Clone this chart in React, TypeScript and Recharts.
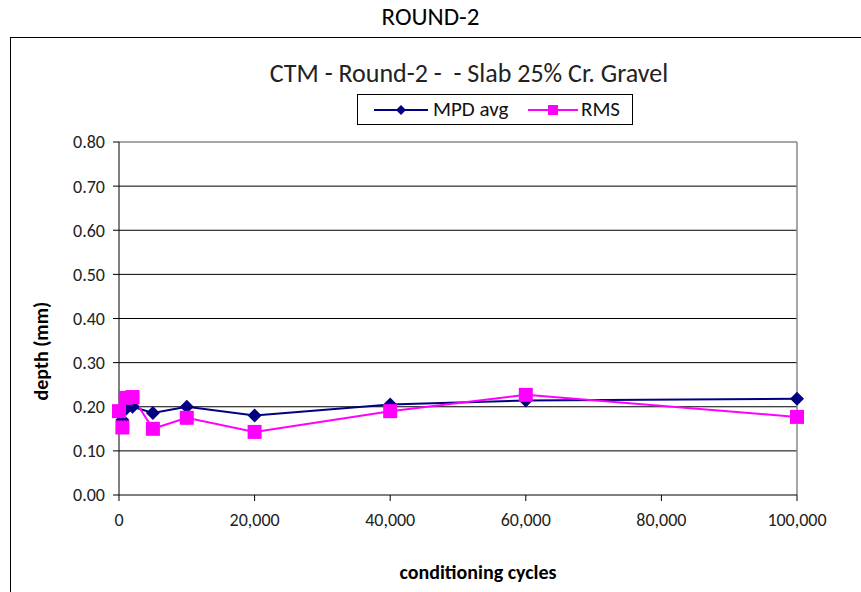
import React from 'react'
import { LineChart, Line, XAxis, YAxis, CartesianGrid, ReferenceLine } from 'recharts'

const cycles = [0, 500, 1000, 2000, 5000, 10000, 20000, 40000, 60000, 100000]
const mpdAvg = [0.185, 0.17, 0.195, 0.2, 0.186, 0.2, 0.18, 0.205, 0.214, 0.218]
const rms = [0.19, 0.153, 0.22, 0.222, 0.15, 0.175, 0.143, 0.19, 0.227, 0.177]
const xTicks = [0, 20000, 40000, 60000, 80000, 100000]
const yTicks = [0, 0.1, 0.2, 0.3, 0.4, 0.5, 0.6, 0.7, 0.8]

const data = cycles.map((c, i) => ({ cycles: c, mpd: mpdAvg[i], rms: rms[i] }))

const FONT = 'Carlito, Lato, "Open Sans", sans-serif'
const NAVY = '#000080'
const MAGENTA = '#ff00ff'

const Diamond = ({ cx, cy, size = 7 }: any) => (
  <polygon
    points={`${cx},${cy - size} ${cx + size},${cy} ${cx},${cy + size} ${cx - size},${cy}`}
    fill={NAVY}
  />
)

const Square = ({ cx, cy, size = 7 }: any) => (
  <rect x={cx - size} y={cy - size} width={size * 2} height={size * 2} fill={MAGENTA} />
)

const fmtX = (v: number) => v.toLocaleString('en-US')

export default function App() {
  return (
    <div
      style={{
        position: 'absolute',
        left: 0,
        top: 0,
        width: 861,
        height: 592,
        overflow: 'hidden',
        background: '#fff',
        fontFamily: FONT,
      }}
    >
      <div style={{ position: 'absolute', left: 0, width: 861, top: 1, textAlign: 'center', fontSize: 25, color: '#000' }}>
        ROUND-2
      </div>
      {/* outer chart frame */}
      <div style={{ position: 'absolute', left: 10, top: 37, width: 900, height: 600, border: '1.5px solid #000' }} />

      <div style={{ position: 'absolute', left: 0, top: 0 }}>
        <LineChart width={861} height={592} data={data} margin={{ top: 142, right: 64, left: 19, bottom: 17 }}>
          <CartesianGrid horizontal vertical={false} stroke="#000" strokeWidth={1} horizontalValues={[0.1, 0.2, 0.3, 0.4, 0.5, 0.6, 0.7]} />
          <ReferenceLine y={0.8} stroke="#888" strokeWidth={1.5} />
          <ReferenceLine x={100000} stroke="#888" strokeWidth={1.5} />
          <XAxis
            dataKey="cycles"
            type="number"
            domain={[0, 100000]}
            ticks={xTicks}
            tickFormatter={fmtX}
            height={80}
            stroke="#000"
            tickSize={6}
            tick={{ fill: '#222', fontSize: 18, fontFamily: FONT, dy: 10 }}
            label={{ value: 'conditioning cycles', position: 'insideBottom', offset: -4, fill: '#000', fontSize: 20, fontWeight: 'bold', fontFamily: FONT, dx: 20 }}
          />
          <YAxis
            type="number"
            domain={[0, 0.8]}
            ticks={yTicks}
            tickFormatter={(v: number) => v.toFixed(2)}
            width={100}
            stroke="#000"
            tickSize={6}
            tick={{ fill: '#222', fontSize: 18, fontFamily: FONT, dx: -6 }}
            label={{ value: 'depth (mm)', angle: -90, position: 'insideLeft', offset: 22, fill: '#000', fontSize: 20, fontWeight: 'bold', fontFamily: FONT, dy: 82 }}
          />
          <Line
            dataKey="mpd"
            stroke={NAVY}
            strokeWidth={2}
            isAnimationActive={false}
            dot={(p: any) => <Diamond key={`d${p.index}`} cx={p.cx} cy={p.cy} />}
            activeDot={false}
          />
          <Line
            dataKey="rms"
            stroke={MAGENTA}
            strokeWidth={2}
            isAnimationActive={false}
            dot={(p: any) => <Square key={`s${p.index}`} cx={p.cx} cy={p.cy} />}
            activeDot={false}
          />
        </LineChart>
      </div>

      <div style={{ position: 'absolute', left: 0, width: 938, top: 57, textAlign: 'center', fontSize: 26, color: '#222', whiteSpace: 'pre' }}>
        {'CTM - Round-2 -  - Slab 25% Cr. Gravel'}
      </div>

      {/* legend */}
      <div
        style={{
          position: 'absolute',
          left: 357,
          top: 94,
          width: 274,
          height: 29,
          border: '1px solid #000',
          fontSize: 21,
          color: '#111',
        }}
      >
        <svg width={60} height={20} style={{ position: 'absolute', left: 14, top: 5 }}>
          <line x1={2} y1={10} x2={56} y2={10} stroke={NAVY} strokeWidth={2} />
          <Diamond cx={29} cy={10} size={5} />
        </svg>
        <span style={{ position: 'absolute', left: 75, top: 1 }}>MPD avg</span>
        <svg width={56} height={20} style={{ position: 'absolute', left: 168, top: 5 }}>
          <line x1={2} y1={10} x2={52} y2={10} stroke={MAGENTA} strokeWidth={2} />
          <Square cx={27} cy={10} size={5} />
        </svg>
        <span style={{ position: 'absolute', left: 223, top: 1 }}>RMS</span>
      </div>
    </div>
  )
}
